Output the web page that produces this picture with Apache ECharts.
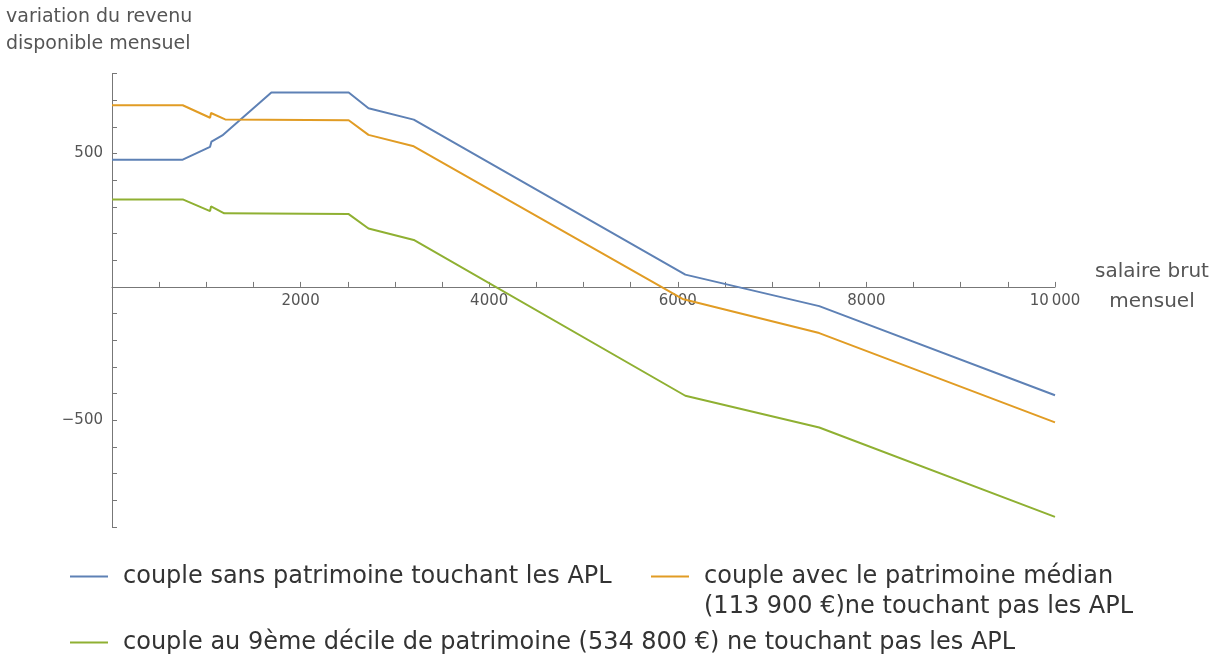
<!DOCTYPE html>
<html>
<head>
<meta charset="utf-8">
<script src="https://cdn.jsdelivr.net/npm/echarts@6/dist/echarts.min.js"></script>
<style>
  html, body { margin: 0; padding: 0; background: #fff; }
  #chart { width: 1219px; height: 656px; }
</style>
</head>
<body>
<div id="chart"></div>
<script>
const SERIES_NAMES = [
  'couple sans patrimoine touchant les APL',
  'couple avec le patrimoine médian (113 900 €)ne touchant pas les APL',
  'couple au 9ème décile de patrimoine (534 800 €) ne touchant pas les APL'
];
const COLORS = ['#5e81b5', '#e19c24', '#8fb032'];

// salaire brut mensuel -> variation du revenu disponible mensuel
const blueX = [0, 750, 1040, 1055, 1170, 1330, 1690, 2510, 2720, 3200, 6080, 7500, 10000];
const blueY = [477, 477, 525, 545, 568, 617, 729, 729, 670, 627, 46, -72, -406];
const orangeX = [0, 750, 1040, 1050, 1200, 2510, 2720, 3200, 6050, 7500, 10000];
const orangeY = [681, 681, 634, 652, 628, 625, 570, 527, -45, -173, -508];
const greenX = [0, 750, 1040, 1050, 1190, 2510, 2720, 3200, 6080, 7500, 10000];
const greenY = [328, 328, 284, 302, 276, 273, 219, 176, -408, -527, -862];

const X_LABELS = { 2000: '2000', 4000: '4000', 6000: '6000', 8000: '8000', 10000: '10\u2009000' };
const Y_LABELS = { 500: '500', '-500': '\u2212500' };

const FONT = '"DejaVu Sans", "Liberation Sans", sans-serif';
const LEGEND_SIZE = 24;

const Y_MIN = -900, Y_MAX = 800;
const GRID = { left: 112, right: 164, top: 73.5, bottom: 129 };

function pairs(xs, ys) {
  return xs.map((x, i) => [x, ys[i]]);
}

const chart = echarts.init(document.getElementById('chart'));

const lineSeries = [pairs(blueX, blueY), pairs(orangeX, orangeY), pairs(greenX, greenY)].map((data, i) => ({
  name: SERIES_NAMES[i],
  type: 'line',
  data: data,
  showSymbol: false,
  symbol: 'none',
  lineStyle: { color: COLORS[i], width: 2 },
  itemStyle: { color: COLORS[i] },
  animation: false
}));

function legendAt(idx, left, top, formatter) {
  return {
    data: [SERIES_NAMES[idx]],
    left: left,
    top: top,
    padding: 0,
    icon: 'rect',
    itemWidth: 38,
    itemHeight: 2,
    selectedMode: false,
    formatter: formatter,
    textStyle: {
      fontFamily: FONT,
      fontSize: LEGEND_SIZE,
      color: '#333',
      lineHeight: 31,
      padding: [0, 0, 0, 10]
    }
  };
}

// put the x axis on the zero line: distance from the grid bottom to y = 0
const plotH = 656 - GRID.top - GRID.bottom;
const zeroOffset = -plotH * (0 - Y_MIN) / (Y_MAX - Y_MIN);

chart.setOption({
  backgroundColor: '#fff',
  animation: false,
  title: [{
    text: 'variation du revenu\ndisponible mensuel',
    left: 6,
    top: 4,
    padding: 0,
    textStyle: {
      fontFamily: FONT,
      fontSize: 19,
      fontWeight: 'normal',
      color: '#555',
      lineHeight: 27
    }
  }, {
    // second line of the orange legend entry
    text: '(113 900 €)ne touchant pas les APL',
    left: 704,
    top: 591,
    padding: 0,
    textStyle: {
      fontFamily: FONT,
      fontSize: LEGEND_SIZE,
      fontWeight: 'normal',
      color: '#333',
      lineHeight: 31
    }
  }],
  legend: [
    legendAt(0, 70, 561),
    legendAt(1, 651, 561, () => 'couple avec le patrimoine médian'),
    legendAt(2, 70, 627)
  ],
  grid: Object.assign({ containLabel: false }, GRID),
  xAxis: {
    type: 'value',
    min: 0,
    max: 10000,
    interval: 500,
    offset: zeroOffset,
    name: 'salaire brut\nmensuel',
    nameLocation: 'end',
    nameGap: 97,
    nameTextStyle: {
      fontFamily: FONT,
      fontSize: 20,
      color: '#555',
      align: 'center',
      verticalAlign: 'middle',
      lineHeight: 30
    },
    axisLine: { onZero: false, lineStyle: { color: '#777', width: 1 } },
    axisTick: { inside: true, length: 5, lineStyle: { color: '#777' } },
    axisLabel: {
      margin: 7,
      fontFamily: FONT,
      fontSize: 15,
      color: '#555',
      formatter: v => X_LABELS[v] || ''
    },
    splitLine: { show: false }
  },
  yAxis: {
    type: 'value',
    min: Y_MIN,
    max: Y_MAX,
    interval: 100,
    axisLine: { show: true, onZero: false, lineStyle: { color: '#777', width: 1 } },
    axisTick: { show: true, inside: true, length: 5, lineStyle: { color: '#777' } },
    axisLabel: {
      margin: 9,
      fontFamily: FONT,
      fontSize: 15,
      color: '#555',
      formatter: v => Y_LABELS[v] || ''
    },
    splitLine: { show: false }
  },
  series: lineSeries
});
</script>
</body>
</html>
